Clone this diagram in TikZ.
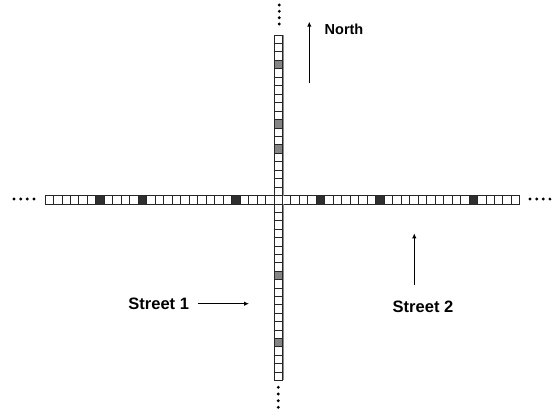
\documentclass[tikz,border=0pt]{standalone}
\usepackage{fontspec}
\setmainfont{Liberation Sans}
\usetikzlibrary{arrows.meta}
\begin{document}
\begin{tikzpicture}[x=1pt,y=-1pt,
  cell/.style={draw=black!85, line width=0.85pt, fill=white},
  dark/.style={cell, fill=black!82},
  mid/.style={cell, fill=black!48},
  shadow/.style={draw=black!45, line width=1.2pt},
  dotmark/.style={fill=black},
  lbl/.style={font=\bfseries\fontsize{16.5}{18}\selectfont, inner sep=0pt},
  lblsmall/.style={font=\bfseries\fontsize{14.5}{16}\selectfont, inner sep=0pt},
  arr/.style={-{Latex[length=5pt,width=4.5pt]}, line width=1.2pt}]
\useasboundingbox (0,0) rectangle (558,413);
% horizontal street
\foreach \i in {0,...,55} \draw[cell] ({45+\i*8.48},195.5) rectangle ++(8.48,8.5);
\foreach \i in {6,11,22,32,39,50} \draw[dark] ({45+\i*8.48},195.5) rectangle ++(8.48,8.5);
% vertical street, above
\draw[shadow] (283.2,35) -- (283.2,195.5);
\foreach \j in {0,...,18} \draw[cell] (273.96,{35+\j*8.45}) rectangle ++(8.48,8.45);
\foreach \j in {3,10,13} \draw[mid] (273.96,{35+\j*8.45}) rectangle ++(8.48,8.45);
% vertical street, below
\draw[shadow] (283.2,204) -- (283.2,380.4);
\foreach \j in {0,...,20} \draw[cell] (273.96,{204+\j*8.4}) rectangle ++(8.48,8.4);
\foreach \j in {8,16} \draw[mid] (273.96,{204+\j*8.4}) rectangle ++(8.48,8.4);
% continuation dots
\foreach \x in {14,20.7,27.3,34} \fill[dotmark] (\x,199) circle (1.6);
\foreach \x in {530,536.7,543.3,549.9} \fill[dotmark] (\x,199) circle (1.6);
\foreach \y in {5,11.3,17.7,24} \fill[dotmark] (279.3,\y) circle (1.6);
\foreach \y in {387.3,394,400.7,407.3} \fill[dotmark] (278.3,\y) circle (1.6);
% labels
\node[lblsmall] (north) at (344,29) {North};
\node[lbl] (s1) at (158.7,303.5) {Street 1};
\node[lbl] (s2) at (423,307) {Street 2};
% arrows
\coordinate (n0) at (309.3,83.3);
\coordinate (n1) at (309.3,21.7);
\draw[arr] (n0) -- (n1);
\coordinate (a0) at (197.7,303.7);
\coordinate (a1) at (249,303.7);
\draw[arr] (a0) -- (a1);
\coordinate (b0) at (414.3,285);
\coordinate (b1) at (414.3,233.3);
\draw[arr] (b0) -- (b1);
\end{tikzpicture}
\end{document}
